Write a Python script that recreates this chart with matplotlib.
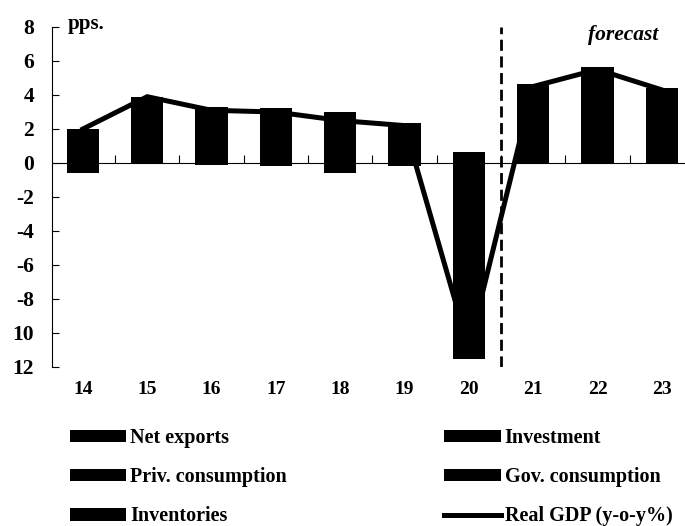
import matplotlib.pyplot as plt
import numpy as np

years = ['14', '15', '16', '17', '18', '19', '20', '21', '22', '23']
net_exports = [-0.6, -0.05, -0.1, -0.2, -0.6, -0.2, -1.9, 0.3, 0.5, 0.4]
investment = [0.6, 1.2, 0.6, 1.2, 1.1, 0.5, -2.3, 0.9, 1.4, 1.3]
priv_cons = [1.0, 1.7, 1.7, 1.7, 1.1, 0.6, -7.3, 2.6, 3.0, 2.2]
gov_cons = [0.2, 0.4, 0.2, 0.2, 0.4, 0.4, 0.65, 0.5, 0.2, 0.2]
inventories = [0.2, 0.6, 0.8, 0.15, 0.4, 0.85, 0.0, 0.35, 0.55, 0.3]
real_gdp = [2.0, 3.9, 3.1, 3.0, 2.5, 2.2, -10.9, 4.5, 5.5, 4.3]
ytick_vals = [8, 6, 4, 2, 0, -2, -4, -6, -8, -10, -12]
ytick_text = ['8', '6', '4', '2', '0', '-2', '-4', '-6', '-8', '10', '12']

plt.rcParams['font.family'] = ['Liberation Serif', 'DejaVu Serif']
plt.rcParams['font.weight'] = 'bold'

fig = plt.figure(figsize=(6.85, 5.26), dpi=100)
ax = fig.add_axes([52 / 685, 1 - 367 / 526, 633 / 685, 340 / 526])

x = np.arange(len(years))
pos_base = np.zeros(len(years))
neg_base = np.zeros(len(years))
bars = {}
components = [('Net exports', net_exports), ('Investment', investment),
              ('Priv. consumption', priv_cons), ('Gov. consumption', gov_cons),
              ('Inventories', inventories)]
for name, vals in components:
    vals = np.array(vals)
    bottoms = np.where(vals >= 0, pos_base, neg_base)
    bars[name] = ax.bar(x, vals, 0.5, bottom=bottoms, color='black', linewidth=0, zorder=2)
    pos_base += np.clip(vals, 0, None)
    neg_base += np.clip(vals, None, 0)

gdp_line, = ax.plot(x, real_gdp, color='black', lw=3.6, zorder=3, solid_joinstyle='miter')

# forecast divider
ax.axvline(6.5, color='black', lw=2, ls=(0, (4, 2)), zorder=4)

ax.set_xlim(-0.48, 9.36)
ax.set_ylim(-12, 8)
ax.set_yticks(ytick_vals, ytick_text)
ax.tick_params(axis='y', direction='in', length=5, pad=13, labelsize=15.5)

ax.spines['top'].set_visible(False)
ax.spines['right'].set_visible(False)
ax.spines['bottom'].set_position(('data', 0))
ax.set_xticks(x[:-1] + 0.5, [])
ax.tick_params(axis='x', direction='in', length=6)

sec = ax.secondary_xaxis(0.0)
sec.set_xticks(x, years)
sec.tick_params(length=0, pad=10, labelsize=14)
sec.spines['bottom'].set_visible(False)

fig.text(68 / 685, 1 - 29 / 526, 'pps.', fontsize=15, va='baseline')
fig.text(588 / 685, 1 - 40 / 526, 'forecast', fontsize=15.5, style='italic', va='baseline')

handles = [bars['Net exports'], bars['Priv. consumption'], bars['Inventories'],
           bars['Investment'], bars['Gov. consumption'], gdp_line]
labels = ['Net exports', 'Priv. consumption', 'Inventories',
          'Investment', 'Gov. consumption', 'Real GDP (y-o-y%)']
fig.legend(handles, labels, ncol=2, loc='upper left', bbox_to_anchor=(60 / 685, 1 - 418 / 526),
           frameon=False, fontsize=14.5, handlelength=2.8, handleheight=0.6,
           handletextpad=0.2, columnspacing=7.8, labelspacing=0.95, borderpad=0)

fig.savefig('out.png', dpi=100)
